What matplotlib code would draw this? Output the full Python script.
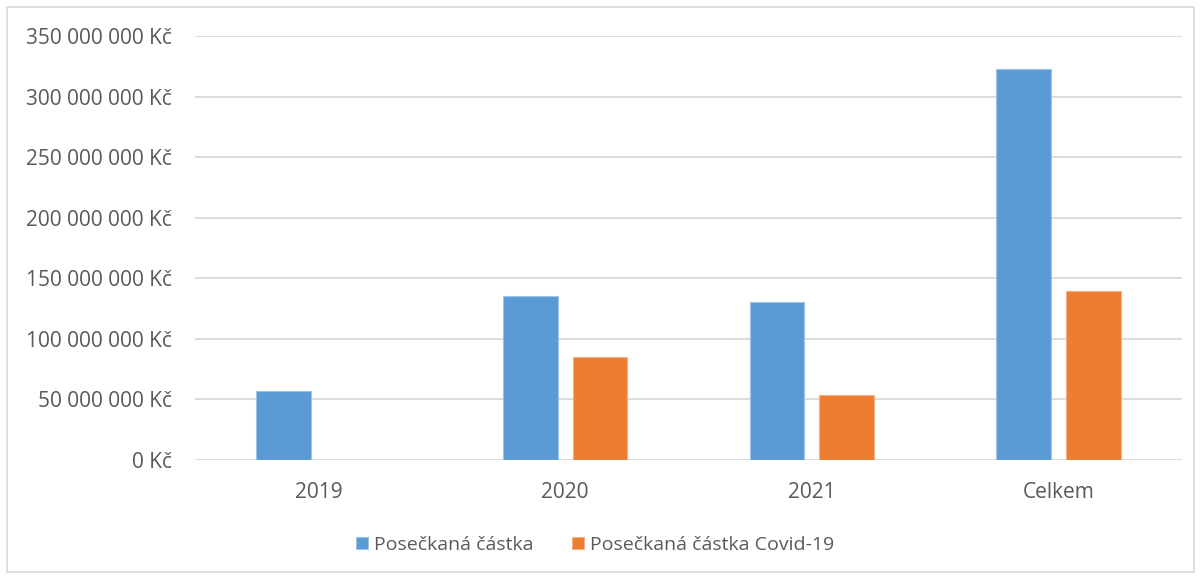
import numpy as np
import matplotlib.pyplot as plt
from matplotlib.patches import Rectangle

kategorie = ["2019", "2020", "2021", "Celkem"]
poseckana = [57.0e6, 135.4e6, 130.2e6, 322.8e6]
poseckana_covid = [0, 85.0e6, 53.7e6, 139.5e6]
nazvy = ["Posečkaná částka", "Posečkaná částka Covid-19"]
barvy = ["#5b9bd5", "#ed7d31"]

plt.rcParams['font.family'] = ['Open Sans', 'DejaVu Sans']
seda = "#595959"

fig = plt.figure(figsize=(12.01, 5.77), dpi=100)
ax = fig.add_axes([195 / 1201, 1 - 460 / 577, 987 / 1201, 424 / 577])

x = np.arange(len(kategorie))
w = 0.222
gap = 0.06
b1 = ax.bar(x - (w + gap) / 2, poseckana, w, color=barvy[0], edgecolor="#9dc3e6", linewidth=0.8, label=nazvy[0])
covid = np.array(poseckana_covid, dtype=float)
covid[covid == 0] = np.nan
b2 = ax.bar(x + (w + gap) / 2, covid, w, color=barvy[1], edgecolor="#f4b183", linewidth=0.8, label=nazvy[1])

ax.set_xlim(-0.5, len(kategorie) - 0.5)
ax.set_ylim(0, 350e6)
ticks = np.arange(0, 350e6 + 1, 50e6)
ax.set_yticks(ticks)
ax.set_yticklabels([("{:,.0f}".format(t).replace(",", " ") + " Kč") for t in ticks])
ax.set_xticks(x)
ax.set_xticklabels(kategorie)
ax.tick_params(axis="both", length=0, labelsize=15, colors=seda)
ax.tick_params(axis="y", pad=16.5)
ax.tick_params(axis="x", pad=16)
ax.grid(axis="y", color="#d9d9d9", linewidth=1.3)
ax.set_axisbelow(True)
for s in ax.spines.values():
    s.set_visible(False)

leg = fig.legend(handles=[b1, b2], labels=nazvy, loc="center", bbox_to_anchor=(595 / 1201, 1 - 545 / 577),
                 ncol=2, frameon=False, fontsize=14, handlelength=0.62, handleheight=0.62,
                 handletextpad=0.3, columnspacing=2.0)
for t in leg.get_texts():
    t.set_color(seda)

fig.patches.append(Rectangle((7 / 1201, 5 / 577), 1187 / 1201, 565 / 577, transform=fig.transFigure,
                             fill=False, edgecolor="#d9d9d9", linewidth=1.2))

fig.savefig("out.png", dpi=100)
